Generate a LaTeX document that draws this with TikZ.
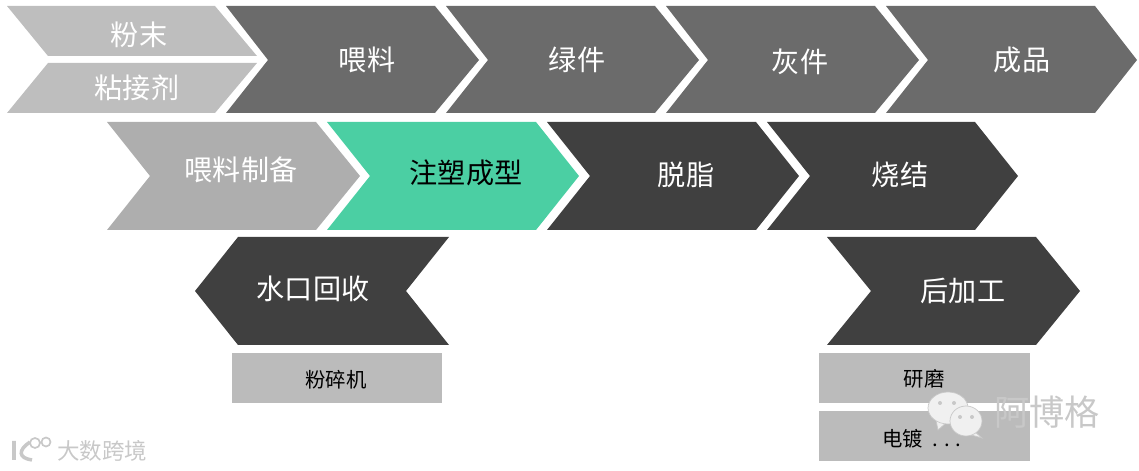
\documentclass[tikz,border=0pt]{standalone}
\usepackage{xcolor}
\usepackage{fontspec}
\setmainfont{Noto Sans CJK SC}
\usepackage{tikz}
\usetikzlibrary{positioning, calc}

\definecolor{barLight}{HTML}{BEBEBE}
\definecolor{barMid}{HTML}{6B6B6B}
\definecolor{barPrep}{HTML}{AEAEAE}
\definecolor{barGreen}{HTML}{4BCFA3}
\definecolor{barDark}{HTML}{404040}
\definecolor{boxGray}{HTML}{BBBBBB}
\definecolor{markGray}{HTML}{C8C8C8}

\tikzset{
    whitelabel/.style={text=white, font=\fontsize{20}{22}\selectfont, inner sep=0pt},
    blacklabel/.style={text=black, font=\fontsize{14.5}{16}\selectfont, inner sep=0pt},
    marklabel/.style={text=markGray, inner sep=0pt},
    bubble/.style={fill=white!94!black, draw=markGray, line width=0.5pt},
}

\begin{document}
\begin{tikzpicture}[x=0.025cm, y=-0.025cm]
    \useasboundingbox (0,0) rectangle (1139,471);

    % top row
    \fill[barLight] (7,6) -- (215,6) -- (257,56) -- (48,56) -- cycle;
    \fill[barLight] (48,63) -- (257,63) -- (215,113) -- (7,113) -- cycle;
    \fill[barMid] (226,6) -- (435,6) -- (479,60) -- (435,113) -- (226,113) -- (268,60) -- cycle;
    \fill[barMid] (446,6) -- (655,6) -- (699,60) -- (655,113) -- (446,113) -- (488,60) -- cycle;
    \fill[barMid] (666,6) -- (875,6) -- (919,60) -- (875,113) -- (666,113) -- (708,60) -- cycle;
    \fill[barMid] (886,6) -- (1095,6) -- (1137,60) -- (1095,113) -- (886,113) -- (928,60) -- cycle;

    \node[whitelabel] (powder) at (139,35) {粉末};
    \node[whitelabel] (binder) at (137,88) {粘接剂};
    \node[whitelabel] (feedstock) at (367,60) {喂料};
    \node[whitelabel] (green) at (577,60) {绿件};
    \node[whitelabel] (brown) at (800,62) {灰件};
    \node[whitelabel] (product) at (1022,60) {成品};

    % middle row
    \fill[barPrep] (107,122) -- (316,122) -- (360,176) -- (316,230) -- (107,230) -- (150,176) -- cycle;
    \fill[barGreen] (327,122) -- (536,122) -- (579,176) -- (536,230) -- (327,230) -- (370,176) -- cycle;
    \fill[barDark] (547,122) -- (756,122) -- (799,176) -- (756,230) -- (547,230) -- (590,176) -- cycle;
    \fill[barDark] (767,122) -- (975,122) -- (1018,176) -- (975,230) -- (767,230) -- (810,176) -- cycle;

    \node[whitelabel] (prep) at (241,170) {喂料制备};
    \node[whitelabel, text=black] (molding) at (466,173) {注塑成型};
    \node[whitelabel] (debind) at (686,175) {脱脂};
    \node[whitelabel] (sinter) at (900,175) {烧结};

    % bottom row
    \fill[barDark] (195,291) -- (238,237) -- (449,237) -- (406,291) -- (449,345) -- (238,345) -- cycle;
    \fill[barDark] (827,237) -- (1036,237) -- (1080,291) -- (1036,345) -- (827,345) -- (871,291) -- cycle;

    \node[whitelabel] (recycle) at (313,289) {水口回收};
    \node[whitelabel] (postproc) at (963,291) {后加工};

    % small boxes
    \fill[boxGray] (232,353) rectangle (442,403);
    \fill[boxGray] (819,353) rectangle (1030,403);
    \fill[boxGray] (819,411) rectangle (1030,461);

    \node[blacklabel] (crusher) at (336,380) {粉碎机};
    \node[blacklabel] (grinding) at (924,379) {研磨};
    \node[blacklabel] (plating) at (922,439) {电镀\ \ . . .};

    % watermarks
    \fill[bubble] (936,420) -- (938,430) -- (947,422) -- cycle;
    \fill[bubble] (948,408) ellipse (20 and 16);
    \fill[bubble] (975,432) -- (982,438) -- (968,434) -- cycle;
    \fill[bubble] (966,421) ellipse (16 and 15);
    \fill[markGray] (940,403) circle (2) (954,403) circle (2) (960,417) circle (2) (972,417) circle (2);
    \node[marklabel, font=\fontsize{25}{27}\selectfont] (blogname) at (1047,412) {阿博格};
    \node[marklabel, font=\fontsize{16}{18}\selectfont] (sitename) at (102,451) {大数跨境};
    \draw[markGray, line width=2.5pt] (14,441) -- (14,460) (30,442) .. controls (18,450) and (18,458) .. (32,460);
    \draw[markGray, line width=1.2pt] (35,443) circle (5) (46,442) circle (4.5);
\end{tikzpicture}
\end{document}
